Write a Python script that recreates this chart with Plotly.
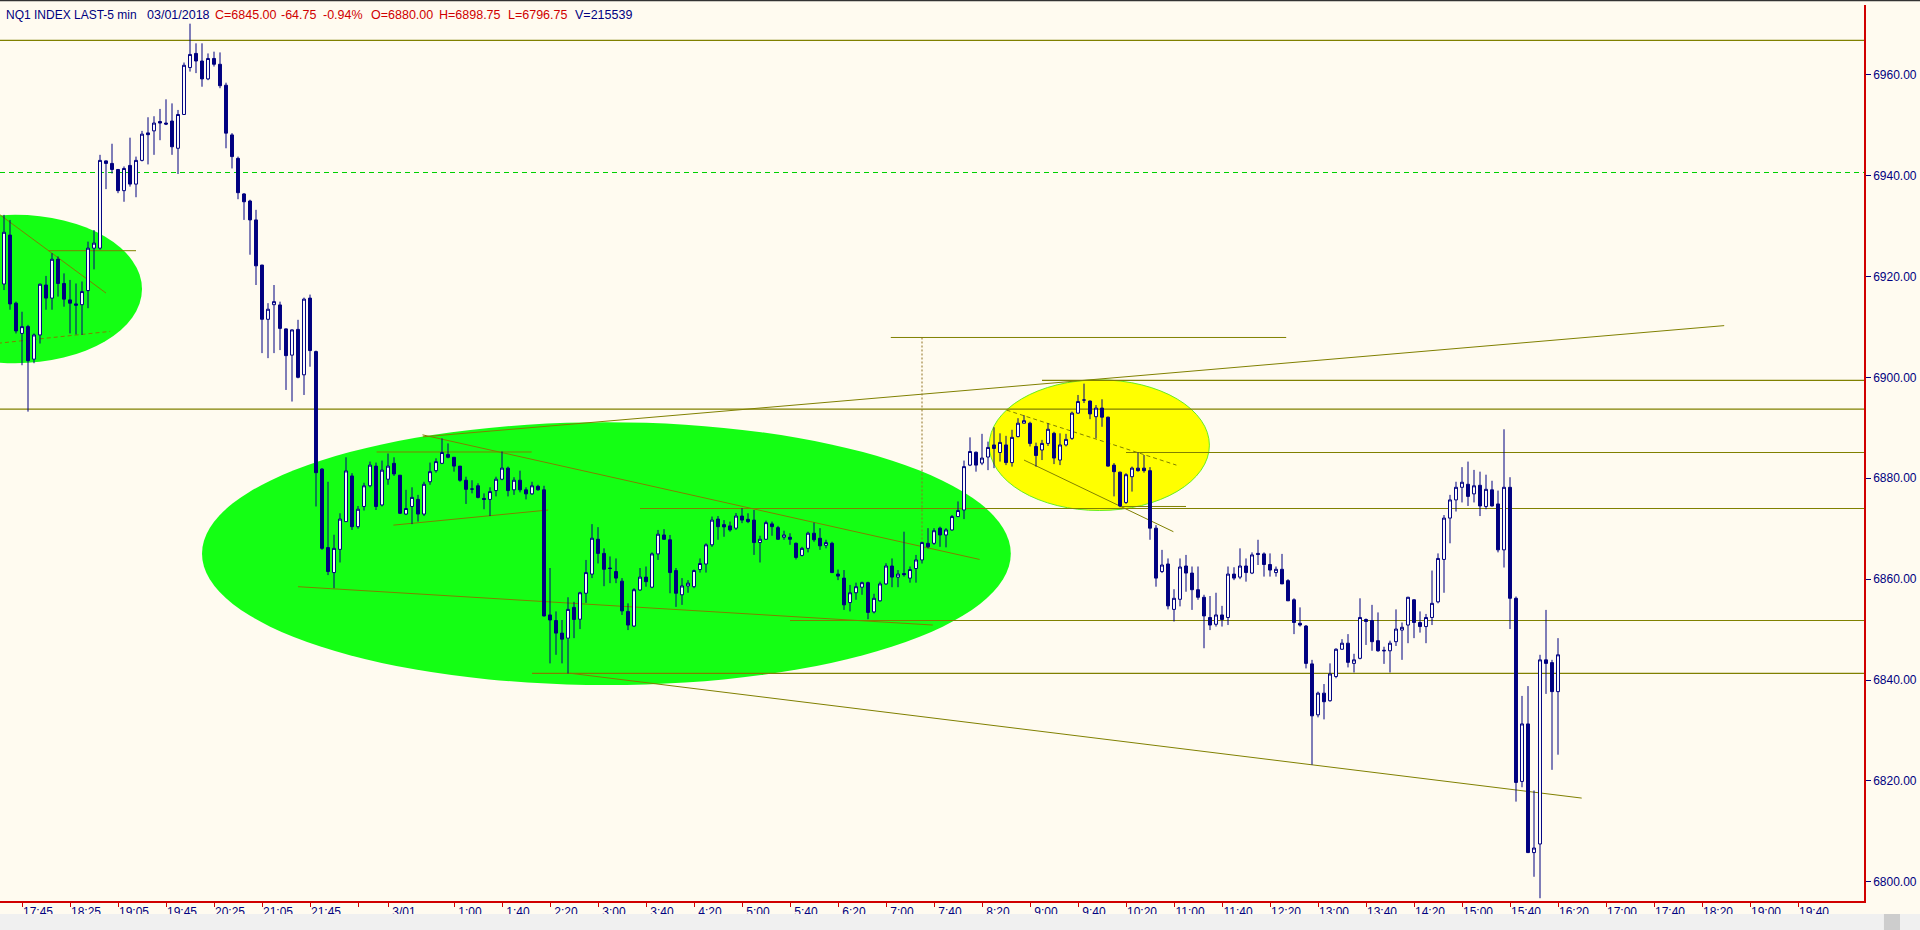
import plotly.graph_objects as go

# ---------------- data (5-min bars, NQ1 INDEX) ----------------
opens = [6918.5, 6928.2, 6914.7, 6908.7, 6910.05, 6903.6, 6908.4, 6918.3, 6915.7, 6923.4,
         6918.6, 6915.35, 6914.55, 6914.4, 6917.2, 6925.6, 6925.6, 6942.9, 6942.4, 6941.2,
         6937.0, 6942.0, 6938.3, 6943.0, 6948.45, 6948.85, 6950.7, 6950.4, 6950.8, 6945.4,
         6952.1, 6961.4, 6964.2, 6962.7, 6959.15, 6963.2, 6962.05, 6957.9, 6948.05, 6943.4,
         6936.35, 6934.95, 6931.2, 6922.25, 6911.5, 6914.4, 6914.35, 6909.6, 6904.4, 6909.5,
         6900.5, 6915.7, 6905.1, 6881.8, 6866.25, 6861.3, 6865.9, 6871.4, 6880.45, 6870.4,
         6874.4, 6878.5, 6882.4, 6874.7, 6879.8, 6882.95, 6880.6, 6872.9, 6874.4, 6875.8,
         6872.9, 6879.3, 6881.5, 6882.95, 6884.7, 6884.15, 6882.4, 6879.6, 6877.85, 6878.5,
         6876.0, 6875.8, 6877.55, 6879.8, 6882.0, 6877.7, 6879.6, 6877.7, 6876.9, 6878.4,
         6877.7, 6852.9, 6851.8, 6849.3, 6848.3, 6854.4, 6852.05, 6857.2, 6861.0, 6867.9,
         6865.1, 6862.2, 6861.5, 6859.6, 6853.6, 6850.7, 6857.85, 6860.4, 6858.4, 6865.0,
         6868.75, 6867.8, 6861.7, 6856.9, 6858.65, 6858.5, 6861.9, 6863.0, 6866.8, 6871.9,
         6870.8, 6870.55, 6870.1, 6872.5, 6871.85, 6871.7, 6867.25, 6867.9, 6870.95, 6870.2,
         6868.3, 6868.3, 6867.1, 6864.7, 6866.1, 6869.1, 6868.1, 6866.7, 6867.1, 6861.0,
         6860.2, 6855.35, 6857.3, 6858.4, 6859.3, 6853.5, 6855.7, 6859.05, 6862.6, 6860.4,
         6861.1, 6860.2, 6862.1, 6863.8, 6867.1, 6867.1, 6870.1, 6868.75, 6869.75, 6872.4,
         6873.7, 6882.6, 6885.15, 6883.0, 6884.2, 6886.6, 6885.1, 6886.6, 6883.1, 6888.25,
         6890.9, 6890.9, 6886.3, 6885.6, 6886.9, 6888.9, 6883.6, 6886.6, 6887.9, 6892.9,
         6895.5, 6895.3, 6892.2, 6893.9, 6892.1, 6882.6, 6881.2, 6875.2, 6880.3, 6882.0,
         6882.0, 6881.5, 6870.1, 6861.5, 6863.0, 6854.0, 6856.0, 6862.6, 6861.2, 6857.9,
         6856.4, 6852.4, 6851.05, 6852.9, 6852.4, 6861.0, 6860.4, 6862.6, 6861.2, 6865.1,
         6865.0, 6862.9, 6861.3, 6861.95, 6859.7, 6855.9, 6851.25, 6850.7, 6843.2, 6833.1,
         6837.4, 6835.9, 6840.7, 6846.1, 6847.3, 6843.3, 6844.3, 6852.0, 6851.8, 6847.8,
         6845.9, 6845.8, 6847.6, 6849.9, 6850.9, 6855.9, 6851.4, 6850.6, 6852.4, 6855.5,
         6863.9, 6872.1, 6875.7, 6878.2, 6878.8, 6876.9, 6878.6, 6874.4, 6877.7, 6874.9,
         6865.8, 6878.2, 6856.2, 6819.9, 6831.3, 6805.8, 6807.5, 6844.0, 6843.45, 6837.7]
highs = [6932.2, 6931.2, 6915.0, 6913.0, 6910.4, 6908.7, 6918.6, 6920.1, 6924.6, 6923.95,
         6920.6, 6919.3, 6918.6, 6919.0, 6926.9, 6929.2, 6944.1, 6943.0, 6946.3, 6941.3,
         6941.8, 6947.5, 6943.75, 6948.85, 6951.55, 6951.75, 6953.2, 6955.1, 6954.3, 6953.0,
         6962.4, 6970.1, 6966.2, 6966.2, 6964.2, 6964.55, 6964.4, 6958.4, 6948.4, 6943.75,
         6936.5, 6935.2, 6933.2, 6922.3, 6914.7, 6918.3, 6915.0, 6909.7, 6909.5, 6911.4,
         6915.8, 6916.4, 6905.3, 6882.0, 6879.3, 6868.8, 6873.05, 6884.15, 6881.0, 6874.5,
         6879.1, 6883.3, 6883.1, 6883.5, 6884.9, 6884.15, 6880.6, 6877.7, 6878.2, 6876.7,
         6879.3, 6883.1, 6883.95, 6887.9, 6886.9, 6884.2, 6882.4, 6880.3, 6879.6, 6879.0,
         6877.0, 6878.2, 6880.3, 6885.3, 6882.3, 6880.2, 6881.5, 6878.2, 6879.3, 6878.7,
         6878.5, 6862.2, 6853.6, 6851.9, 6856.4, 6855.5, 6857.5, 6863.8, 6870.9, 6870.3,
         6866.1, 6864.5, 6864.1, 6860.2, 6855.2, 6858.2, 6862.2, 6862.5, 6865.3, 6869.75,
         6869.9, 6868.75, 6862.2, 6860.2, 6859.8, 6861.9, 6864.1, 6867.1, 6872.4, 6872.5,
         6871.7, 6871.4, 6873.1, 6874.05, 6873.05, 6873.7, 6868.6, 6871.6, 6871.4, 6870.55,
         6869.6, 6869.1, 6867.25, 6866.4, 6869.4, 6871.2, 6870.1, 6867.8, 6867.4, 6861.9,
         6861.8, 6858.85, 6859.3, 6859.5, 6859.5, 6857.1, 6859.5, 6863.15, 6864.1, 6861.8,
         6869.4, 6862.5, 6864.8, 6867.4, 6870.1, 6870.1, 6870.4, 6870.1, 6872.7, 6875.4,
         6883.5, 6888.1, 6885.3, 6888.8, 6887.25, 6890.1, 6888.9, 6888.4, 6889.6, 6891.9,
         6892.5, 6891.2, 6887.05, 6887.6, 6890.9, 6889.2, 6888.9, 6888.8, 6893.2, 6896.5,
         6898.75, 6895.4, 6894.5, 6895.65, 6892.2, 6883.0, 6881.3, 6881.0, 6882.3, 6885.1,
         6884.6, 6882.2, 6870.7, 6865.8, 6864.1, 6858.0, 6864.1, 6864.8, 6862.5, 6862.5,
         6856.9, 6856.65, 6857.3, 6854.7, 6862.5, 6862.35, 6866.1, 6864.1, 6865.3, 6867.8,
         6865.3, 6865.1, 6862.5, 6865.0, 6860.0, 6856.2, 6854.4, 6850.9, 6844.0, 6837.7,
         6839.2, 6843.3, 6846.3, 6848.1, 6849.1, 6845.2, 6856.2, 6852.2, 6854.9, 6853.4,
         6846.6, 6847.8, 6854.0, 6851.4, 6856.5, 6856.0, 6853.6, 6853.1, 6861.7, 6865.1,
         6872.7, 6876.7, 6879.3, 6882.2, 6883.3, 6881.65, 6881.3, 6880.7, 6879.5, 6877.55,
         6889.7, 6880.2, 6856.55, 6836.85, 6838.8, 6818.1, 6845.0, 6853.9, 6844.0, 6848.3]
lows = [6917.3, 6913.4, 6908.7, 6902.4, 6893.2, 6902.8, 6906.7, 6913.4, 6913.4, 6916.0,
        6914.0, 6908.7, 6908.5, 6908.4, 6913.7, 6921.4, 6925.3, 6937.3, 6940.4, 6936.5,
        6934.8, 6937.8, 6935.7, 6942.8, 6942.2, 6944.1, 6947.0, 6950.0, 6944.1, 6940.3,
        6952.0, 6960.6, 6960.3, 6957.6, 6958.9, 6961.6, 6957.3, 6945.4, 6941.4, 6935.3,
        6931.2, 6924.3, 6918.3, 6904.8, 6903.8, 6904.8, 6905.4, 6897.5, 6895.2, 6899.8,
        6896.5, 6902.1, 6874.4, 6865.8, 6860.8, 6858.2, 6863.3, 6871.4, 6869.75, 6870.0,
        6873.6, 6878.2, 6873.7, 6874.4, 6878.7, 6880.45, 6872.9, 6872.7, 6870.9, 6871.4,
        6872.5, 6878.7, 6881.1, 6882.8, 6883.95, 6881.3, 6879.3, 6874.9, 6877.0, 6876.0,
        6873.85, 6872.5, 6876.4, 6879.6, 6876.4, 6876.7, 6877.2, 6875.8, 6876.7, 6877.55,
        6852.6, 6843.3, 6845.0, 6843.3, 6841.3, 6848.3, 6850.1, 6855.3, 6860.2, 6863.1,
        6858.6, 6859.2, 6859.2, 6852.9, 6849.9, 6850.5, 6857.7, 6858.5, 6858.2, 6863.8,
        6867.8, 6857.2, 6854.5, 6854.9, 6857.3, 6858.2, 6861.3, 6861.3, 6866.4, 6867.8,
        6868.4, 6869.4, 6869.75, 6871.1, 6871.1, 6864.8, 6863.3, 6867.8, 6868.6, 6867.8,
        6867.8, 6866.8, 6863.9, 6864.5, 6865.3, 6867.4, 6865.8, 6866.1, 6861.2, 6859.8,
        6853.9, 6853.6, 6855.9, 6856.9, 6852.05, 6853.2, 6855.55, 6858.85, 6858.4, 6858.4,
        6860.5, 6859.3, 6859.3, 6863.1, 6866.1, 6866.8, 6866.4, 6866.3, 6869.6, 6872.3,
        6871.9, 6882.4, 6881.3, 6882.6, 6881.6, 6882.0, 6883.3, 6882.6, 6882.3, 6888.1,
        6890.9, 6886.3, 6882.3, 6883.6, 6886.4, 6882.8, 6882.6, 6886.3, 6887.6, 6892.75,
        6894.9, 6891.7, 6887.9, 6890.2, 6882.3, 6876.4, 6874.25, 6874.9, 6877.35, 6881.3,
        6881.1, 6867.8, 6858.5, 6861.2, 6854.0, 6851.6, 6854.6, 6857.5, 6853.9, 6855.9,
        6846.3, 6849.9, 6850.6, 6850.6, 6850.9, 6859.8, 6860.0, 6859.5, 6861.0, 6862.8,
        6860.5, 6860.5, 6860.5, 6859.05, 6855.7, 6849.1, 6850.6, 6842.3, 6823.2, 6832.6,
        6832.2, 6835.7, 6840.35, 6846.0, 6842.5, 6841.5, 6844.1, 6846.95, 6845.8, 6845.6,
        6843.2, 6841.5, 6846.75, 6844.0, 6847.3, 6848.3, 6849.4, 6847.3, 6850.9, 6855.2,
        6857.3, 6867.1, 6873.4, 6875.2, 6874.5, 6875.2, 6872.5, 6873.85, 6874.4, 6865.3,
        6862.3, 6850.1, 6815.9, 6818.75, 6805.7, 6801.0, 6796.75, 6837.25, 6822.2, 6825.2]
closes = [6928.75, 6914.55, 6909.2, 6910.05, 6903.3, 6908.4, 6918.45, 6915.7, 6923.4, 6918.6,
          6915.5, 6914.7, 6914.3, 6917.0, 6925.6, 6926.6, 6943.0, 6942.4, 6941.2, 6937.0,
          6941.4, 6938.3, 6943.0, 6948.2, 6948.1, 6950.4, 6950.4, 6950.2, 6945.7, 6952.1,
          6961.85, 6964.0, 6962.7, 6959.15, 6963.2, 6962.05, 6957.8, 6948.4, 6943.75, 6936.6,
          6934.8, 6931.2, 6922.1, 6911.5, 6913.5, 6915.0, 6909.7, 6904.3, 6909.4, 6900.0,
          6915.5, 6905.3, 6881.1, 6866.1, 6861.5, 6866.1, 6871.9, 6881.45, 6870.4, 6873.85,
          6878.5, 6882.6, 6874.4, 6881.6, 6882.4, 6880.85, 6873.05, 6874.0, 6876.2, 6872.9,
          6878.8, 6881.3, 6883.3, 6885.1, 6884.15, 6882.4, 6879.6, 6877.8, 6877.85, 6876.2,
          6875.8, 6877.35, 6879.8, 6882.0, 6877.55, 6879.6, 6877.7, 6876.9, 6878.5, 6877.7,
          6852.7, 6851.9, 6849.3, 6848.1, 6854.0, 6852.0, 6857.3, 6861.3, 6868.1, 6865.1,
          6861.95, 6862.1, 6860.2, 6853.7, 6850.9, 6857.9, 6860.4, 6859.5, 6865.0, 6868.9,
          6867.9, 6861.3, 6857.2, 6858.65, 6859.2, 6861.7, 6863.1, 6866.8, 6871.7, 6870.4,
          6870.35, 6869.75, 6872.5, 6871.7, 6871.4, 6867.25, 6867.9, 6871.2, 6870.4, 6867.9,
          6868.75, 6867.9, 6864.3, 6866.1, 6869.1, 6867.8, 6866.6, 6867.25, 6861.3, 6860.6,
          6854.9, 6857.3, 6858.5, 6859.3, 6853.4, 6856.2, 6859.05, 6862.6, 6860.4, 6861.0,
          6860.9, 6861.9, 6863.8, 6867.25, 6866.4, 6869.6, 6868.75, 6869.75, 6872.4, 6873.6,
          6882.3, 6885.3, 6882.6, 6884.0, 6886.1, 6885.9, 6887.1, 6883.1, 6888.1, 6890.9,
          6891.4, 6886.9, 6884.5, 6886.9, 6889.7, 6884.0, 6886.6, 6887.7, 6892.9, 6895.2,
          6895.5, 6892.75, 6893.9, 6892.1, 6882.4, 6881.3, 6874.5, 6880.7, 6882.0, 6881.5,
          6881.5, 6870.1, 6860.2, 6862.8, 6854.7, 6856.2, 6862.4, 6861.2, 6857.9, 6856.4,
          6852.7, 6850.9, 6852.9, 6852.0, 6861.0, 6860.2, 6862.6, 6861.3, 6864.8, 6864.9,
          6862.9, 6861.8, 6861.95, 6859.05, 6855.7, 6851.4, 6850.9, 6843.3, 6832.9, 6837.4,
          6835.7, 6841.2, 6846.1, 6847.3, 6843.5, 6844.0, 6852.4, 6851.6, 6847.6, 6845.8,
          6845.8, 6847.3, 6850.1, 6850.45, 6856.4, 6851.4, 6850.6, 6852.4, 6855.2, 6864.1,
          6872.1, 6875.7, 6878.2, 6879.2, 6876.4, 6878.5, 6874.5, 6877.8, 6874.5, 6865.8,
          6878.2, 6856.2, 6819.7, 6831.3, 6805.8, 6806.7, 6844.0, 6843.3, 6837.7, 6845.0]
bar_index = list(range(len(closes)))

tick_bars = [3, 11, 19, 27, 35, 43, 51, 59, 64, 75, 83, 91, 99, 107, 115, 123, 131, 139,
             147, 155, 163, 171, 179, 187, 195, 203, 211, 219, 227, 235, 243, 251, 259,
             267, 275, 283, 291, 299]
tick_labels = ["17:45", "18:25", "19:05", "19:45", "20:25", "21:05", "21:45", "", "3/01",
               "1:00", "1:40", "2:20", "3:00", "3:40", "4:20", "5:00", "5:40", "6:20",
               "7:00", "7:40", "8:20", "9:00", "9:40", "10:20", "11:00", "11:40", "12:20",
               "13:00", "13:40", "14:20", "15:00", "15:40", "16:20", "17:00", "17:40",
               "18:20", "19:00", "19:40"]
price_ticks = [6800, 6820, 6840, 6860, 6880, 6900, 6920, 6940, 6960]

# header values
symbol_text = "NQ1 INDEX LAST-5 min"
date_text = "03/01/2018"
last_close = 6845.00
net_change = -64.75
pct_change = -0.94
session_open = 6880.00
session_high = 6898.75
session_low = 6796.75
volume = 215539

# drawings (bar index / price coordinates)
level_prices = [6966.8, 6893.7, 6899.4, 6885.1, 6874.0, 6851.8, 6841.3]
level_start_bars = [-1, -1, 173, 187, 106, 131, 88]
dashed_level_price = 6940.6
trend_lines = [  # (bar0, price0, bar1, price1)
    (69.8, 6888.2, 286.7, 6910.25),
    (94.3, 6841.35, 262.95, 6816.6),
    (69.75, 6888.6, 162.6, 6863.9),
    (64.9, 6870.7, 90.7, 6873.7),
    (49.0, 6858.5, 154.8, 6850.9),
    (62.1, 6885.2, 87.95, 6885.2),
    (170.0, 6883.6, 194.9, 6869.4),
    (186.0, 6874.4, 197.0, 6874.4),
    (-1.0, 6932.5, 17.0, 6916.7),
    (7.4, 6925.1, 22.0, 6925.1),
    (147.8, 6907.9, 213.7, 6907.9),
]
dashed_trend_lines = [
    (167.1, 6893.5, 195.4, 6882.6),
    (-1.0, 6906.75, 17.7, 6909.1),
]
dotted_vertical = (153, 6907.9, 6866.5)
green_ellipses = [(-19.3, 6902.8, 23.0, 6932.2), (33.0, 6839.0, 167.8, 6891.1)]
yellow_ellipse = (164.2, 6873.6, 200.9, 6899.5)

# ---------------- figure ----------------
NAVY = "#000080"
RED = "#D00000"
OLIVE = "#808000"
BG = "#FFFBF0"
X_MAX = 310.0
X_MIN = -0.667

fig = go.Figure()
fig.add_trace(go.Candlestick(
    x=bar_index, open=opens, high=highs, low=lows, close=closes,
    increasing=dict(line=dict(color=NAVY, width=1), fillcolor="#FFFFFF"),
    decreasing=dict(line=dict(color=NAVY, width=1), fillcolor=NAVY),
    whiskerwidth=0, hoverinfo="skip", showlegend=False,
))

shapes = []
for e in green_ellipses:
    shapes.append(dict(type="circle", xref="x", yref="y", x0=e[0], y0=e[1], x1=e[2], y1=e[3],
                       fillcolor="#14FF14", line=dict(width=0), layer="below"))
shapes.append(dict(type="circle", xref="x", yref="y", x0=yellow_ellipse[0], y0=yellow_ellipse[1],
                   x1=yellow_ellipse[2], y1=yellow_ellipse[3], fillcolor="#FFFF00",
                   line=dict(color="#66EE22", width=1), layer="below"))
for p, b in zip(level_prices, level_start_bars):
    shapes.append(dict(type="line", xref="x", yref="y", x0=b, x1=X_MAX, y0=p, y1=p,
                       line=dict(color=OLIVE, width=1.2), layer="below"))
shapes.append(dict(type="line", xref="x", yref="y", x0=X_MIN, x1=X_MAX, y0=dashed_level_price,
                   y1=dashed_level_price, line=dict(color="#00D000", width=1, dash="5px,4px"),
                   layer="below"))
for (b0, p0, b1, p1) in trend_lines:
    shapes.append(dict(type="line", xref="x", yref="y", x0=b0, y0=p0, x1=b1, y1=p1,
                       line=dict(color=OLIVE, width=1), layer="below"))
for (b0, p0, b1, p1) in dashed_trend_lines:
    shapes.append(dict(type="line", xref="x", yref="y", x0=b0, y0=p0, x1=b1, y1=p1,
                       line=dict(color=OLIVE, width=1, dash="4px,3px"), layer="below"))
shapes.append(dict(type="line", xref="x", yref="y", x0=dotted_vertical[0], x1=dotted_vertical[0],
                   y0=dotted_vertical[1], y1=dotted_vertical[2],
                   line=dict(color="#907020", width=1, dash="2px,2px"), layer="below"))
# window chrome: bottom grey scrollbar strip and top dark edge
shapes.append(dict(type="rect", xref="paper", yref="paper", x0=-0.01, x1=1.04, y0=-0.0324,
                   y1=-0.0145, fillcolor="#F0F0F0", line=dict(width=0), layer="above"))
shapes.append(dict(type="rect", xref="paper", yref="paper", x0=1.0107, x1=1.0193, y0=-0.0324,
                   y1=-0.0145, fillcolor="#CDCDCD", line=dict(width=0), layer="above"))
shapes.append(dict(type="line", xref="paper", yref="paper", x0=-0.01, x1=1.04, y0=1.0052,
                   y1=1.0052, line=dict(color="#333333", width=2), layer="above"))

fig.update_layout(shapes=shapes)

# header text pieces (text, colour, left pixel, font size)
pieces = [
    (symbol_text, NAVY, 4, 12),
    (date_text, NAVY, 145, 12.5),
    ("C=%.2f" % last_close, RED, 213, 12.5),
    ("%.2f" % net_change, RED, 279, 12.5),
    ("%.2f%%" % pct_change, RED, 321, 12.5),
    ("O=%.2f" % session_open, RED, 369, 12.5),
    ("H=%.2f" % session_high, RED, 437, 12.5),
    ("L=%.2f" % session_low, RED, 506, 12.5),
    ("V=%d" % volume, NAVY, 573, 12.5),
]
PLOT_W = 1864.0
annotations = []
for text, color, px, fs in pieces:
    annotations.append(dict(text=text, xref="paper", yref="paper", x=px / PLOT_W, y=1,
                            xanchor="left", yanchor="middle", yshift=-10, showarrow=False,
                            font=dict(family="Liberation Sans, Arial", size=fs, color=color)))
fig.update_layout(annotations=annotations)

fig.update_layout(
    width=1920, height=930,
    margin=dict(l=0, r=56, t=5, b=29),
    paper_bgcolor=BG, plot_bgcolor=BG,
    showlegend=False,
    hovermode=False,
    xaxis=dict(
        range=[X_MIN, X_MAX], tickmode="array", tickvals=tick_bars, ticktext=tick_labels,
        ticks="outside", ticklen=4, tickcolor=RED, tickwidth=1,
        showline=True, linecolor=RED, linewidth=1.5, mirror=False,
        showgrid=False, zeroline=False, rangeslider=dict(visible=False),
        tickfont=dict(family="Liberation Sans, Arial", size=12, color=NAVY),
        ticklabelshift=16, ticklabelstandoff=-5,
    ),
    yaxis=dict(
        side="right", range=[6796.2, 6973.8], tickmode="array", tickvals=price_ticks,
        ticktext=["%.2f" % v for v in price_ticks],
        ticks="outside", ticklen=5, tickcolor=NAVY, tickwidth=1,
        showline=True, linecolor=RED, linewidth=1.5,
        showgrid=False, zeroline=False,
        tickfont=dict(family="Liberation Sans, Arial", size=12, color=NAVY),
    ),
)

fig.write_html("out.html", config={"displayModeBar": False},
               post_script="document.body.style.margin='0px';document.body.style.overflow='hidden';")
